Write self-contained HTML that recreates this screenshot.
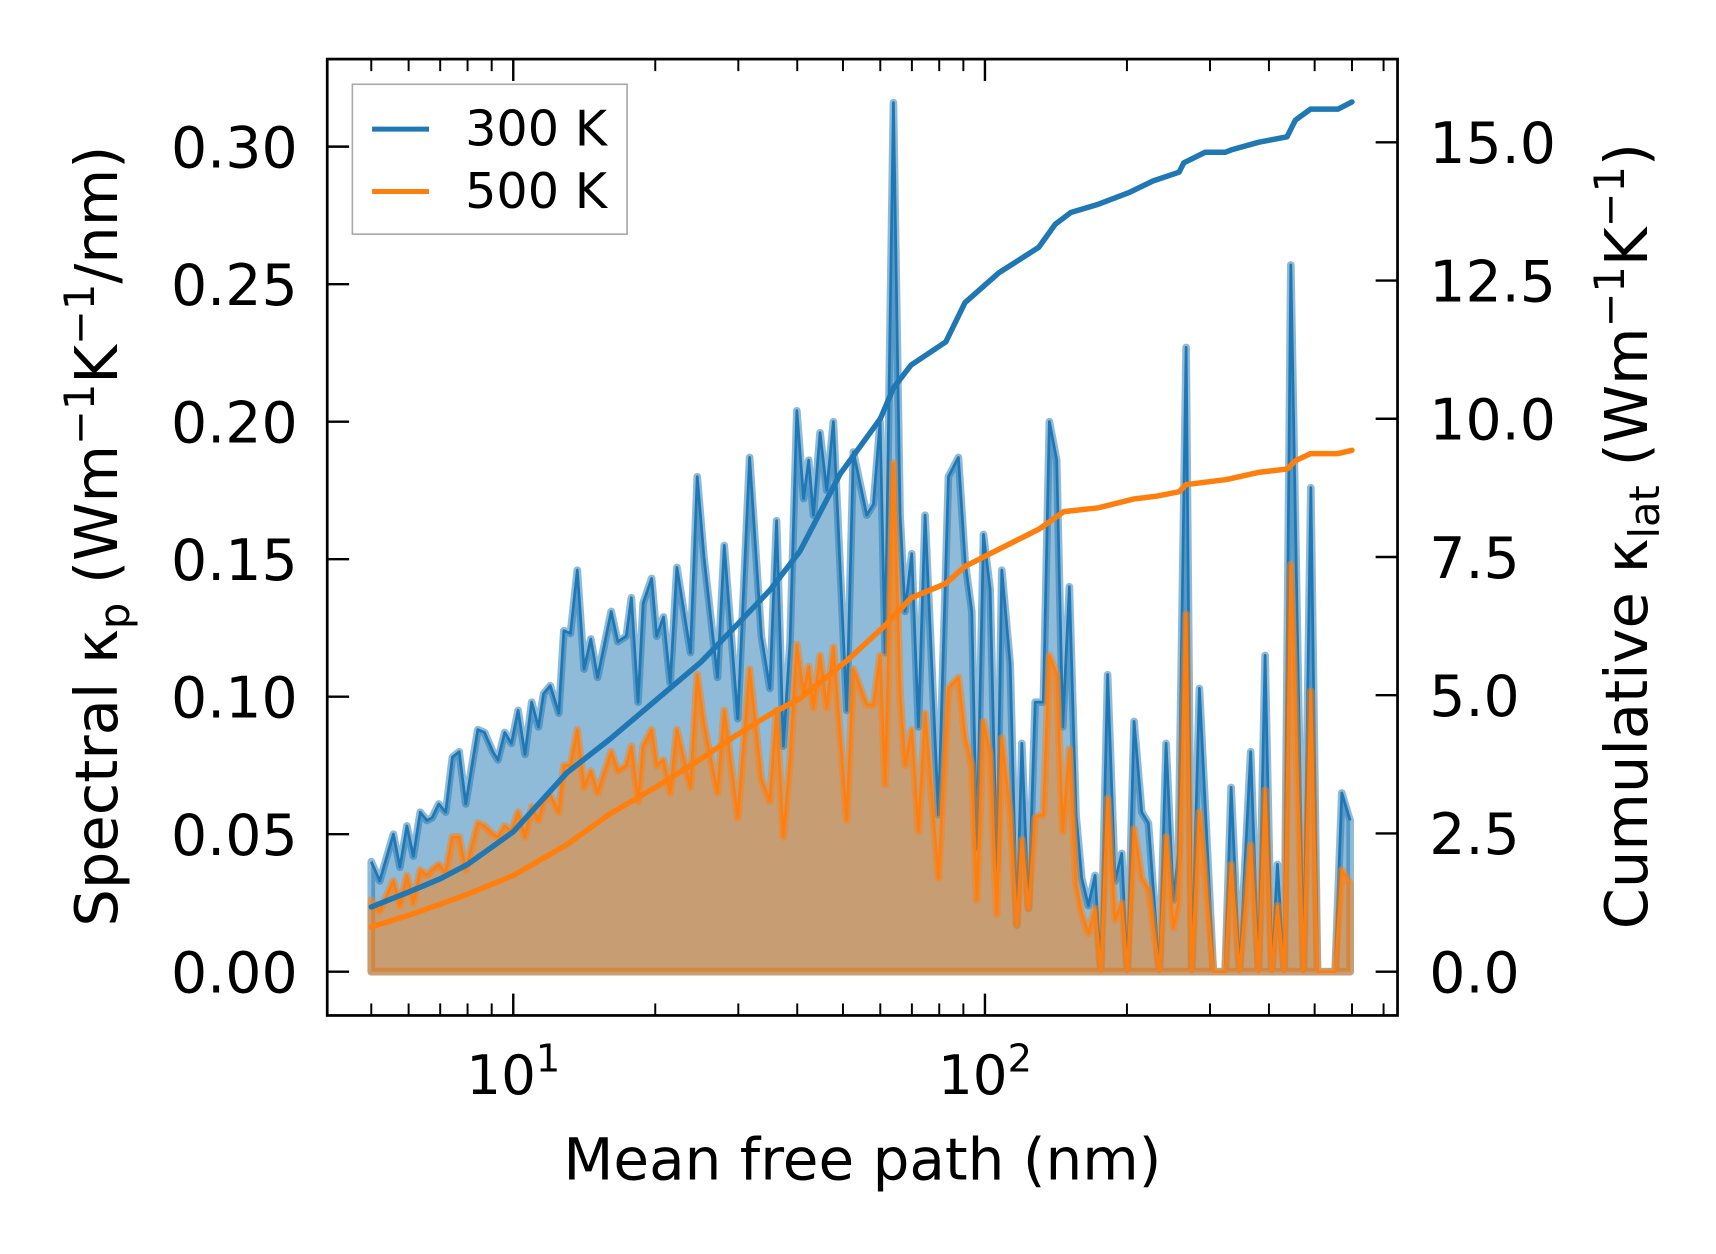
<!DOCTYPE html>
<html><head><meta charset="utf-8"><style>
html,body{margin:0;padding:0;background:#fff;}
svg{display:block;font-family:"DejaVu Sans","Liberation Sans",sans-serif;}
</style></head><body>
<svg id="chart" width="1716" height="1254" viewBox="0 0 1568 1146" preserveAspectRatio="none" xmlns="http://www.w3.org/2000/svg">
<rect x="0" y="0" width="1568" height="1146" fill="#fff"/>
<g id="plot"></g>
<rect x="299" y="54" width="978" height="874" fill="none" stroke="#000" stroke-width="2.5"/>
<g id="ticks"></g>
<g>
<rect x="322" y="77" width="251" height="137" fill="#fff" fill-opacity="0.8" stroke="#aaa" stroke-width="1.5"/>
<line x1="340" y1="118" x2="392" y2="118" stroke="#1f77b4" stroke-width="4.5"/>
<text x="425" y="133" font-size="45">300 K</text>
<line x1="340" y1="175" x2="392" y2="175" stroke="#ff7f0e" stroke-width="4.5"/>
<text x="425" y="190" font-size="45">500 K</text>
</g>
<text x="788" y="1078" font-size="53" text-anchor="middle">Mean free path (nm)</text>
<text transform="translate(107,490) rotate(-90)" font-size="54" text-anchor="middle">Spectral κ<tspan font-size="38" dy="11">p</tspan><tspan dy="-11"> (Wm</tspan><tspan font-size="38" dy="-21">−1</tspan><tspan dy="21">K</tspan><tspan font-size="38" dy="-21">−1</tspan><tspan dy="21">/nm)</tspan></text>
<text transform="translate(1505,490) rotate(-90)" font-size="54" text-anchor="middle">Cumulative κ<tspan font-size="38" dy="11">lat</tspan><tspan dy="-11"> (Wm</tspan><tspan font-size="38" dy="-21">−1</tspan><tspan dy="21">K</tspan><tspan font-size="38" dy="-21">−1</tspan><tspan dy="21">)</tspan></text>
</svg>
<script>
const mfp = [5.00,5.21,5.57,5.75,5.95,6.14,6.35,6.56,6.73,6.95,7.19,7.43,7.68,7.93,8.41,8.69,9.05,9.28,9.59,9.91,10.24,10.59,10.94,11.31,11.59,11.98,12.49,12.80,13.22,13.67,14.13,14.60,15.09,16.13,16.66,17.36,17.80,18.39,18.85,19.65,20.14,20.82,21.51,22.23,23.75,24.55,25.36,27.10,28.01,29.92,31.70,33.57,34.99,36.16,37.37,38.62,39.92,41.26,42.29,
43.28,44.71,46.19,47.72,50.93,52.61,56.16,58.02,59.94,61.42,63.97,66.08,67.71,69.95,72.27,74.66,79.69,83.68,87.86,90.78,93.78,96.10,99.29,102.57,105.96,108.58,113.10,116.85,119.74,123.70,127.78,
130.86,133.01,136.96,141.96,146.19,151.0,156.0,160.4,165.7,171.2,176.0,182.0,188.7,195.0,200.4,207.1,215.0,222.1,234.4,242.1,250.9,257.1,267.0,274.4,284.9,305.0,323.0,332.6,346.4,365.9,380.0,392.6,405.6,417.0,430.8,445.1,473.5,490.8,507.0,552.6,570.9,594.6];
const spec300 = [0.040,0.033,0.050,0.038,0.053,0.042,0.058,0.055,0.056,0.061,0.058,0.078,0.080,0.061,0.088,0.087,0.080,0.077,0.087,0.083,0.095,0.079,0.098,0.089,0.101,0.104,0.094,0.124,0.123,0.146,0.110,0.121,0.107,0.131,0.120,0.122,0.136,0.098,0.134,0.143,0.122,0.129,0.105,0.147,0.116,0.180,0.151,0.107,0.155,0.092,0.187,0.122,0.103,0.164,0.082,0.120,0.204,0.172,0.186,
0.166,0.196,0.175,0.200,0.095,0.189,0.166,0.170,0.200,0.116,0.316,0.166,0.131,0.152,0.089,0.166,0.057,0.180,0.187,0.149,0.131,0.045,0.159,0.139,0.037,0.146,0.112,0.017,0.083,0.023,0.098,
0.098,0.098,0.200,0.186,0.089,0.140,0.057,0.034,0.024,0.035,0.001,0.108,0.033,0.043,0.0,0.091,0.058,0.054,0.0,0.083,0.026,0.043,0.227,0.0,0.103,0.0,0.0,0.067,0.0,0.080,0.0,0.115,0.0,0.039,0.0,0.257,0.0,0.176,0.0,0.0,0.065,0.055];
const spec500 = [0.026,0.022,0.033,0.024,0.035,0.025,0.037,0.035,0.037,0.039,0.036,0.049,0.049,0.037,0.054,0.053,0.050,0.049,0.053,0.051,0.058,0.049,0.060,0.055,0.062,0.064,0.058,0.075,0.075,0.088,0.067,0.073,0.065,0.080,0.073,0.075,0.082,0.062,0.082,0.088,0.075,0.077,0.065,0.088,0.067,0.108,0.090,0.065,0.095,0.056,0.110,0.070,0.062,0.095,0.049,0.077,0.119,0.101,0.111,
0.096,0.115,0.096,0.118,0.055,0.110,0.097,0.097,0.115,0.068,0.185,0.101,0.075,0.088,0.051,0.094,0.034,0.103,0.107,0.085,0.075,0.026,0.091,0.079,0.021,0.085,0.057,0.017,0.048,0.023,0.056,
0.057,0.057,0.115,0.108,0.051,0.081,0.032,0.021,0.014,0.023,0,0.063,0.019,0.025,0,0.052,0.034,0.030,0,0.049,0.016,0.025,0.130,0,0.058,0,0,0.039,0,0.046,0,0.066,0,0.024,0,0.148,0,0.102,0,0,0.037,0.032];
const cumX300 = [5,6,7,8,10,13,16,20,25,30,35,40.5,49.3,60,64,69.7,82.6,90.7,107,130,141,152,174,202,227,258,264,293,323,335,380,437,455,490,560,600];
const cum300 = [1.17,1.44,1.68,1.94,2.53,3.6,4.2,4.9,5.6,6.3,6.9,7.6,9.0,10.0,10.56,10.97,11.39,12.1,12.64,13.1,13.52,13.73,13.88,14.09,14.3,14.46,14.63,14.82,14.82,14.87,15.0,15.1,15.4,15.6,15.6,15.73];
const cumX500 = [5,6,7,8,10,13,16,20,25,30,35,40.5,50.9,61.9,69.7,82.6,90.7,107,130,147,174,207,231,258,267,325,380,437,455,490,560,600];
const cum500 = [0.81,1.02,1.22,1.4,1.74,2.3,2.85,3.33,3.85,4.3,4.65,4.94,5.62,6.29,6.76,7.02,7.33,7.64,8.0,8.32,8.39,8.55,8.6,8.68,8.81,8.9,9.03,9.09,9.24,9.37,9.37,9.43];
const leftTicks = [0, 0.05, 0.10, 0.15, 0.20, 0.25, 0.30];
const leftTickLabels = ["0.00","0.05","0.10","0.15","0.20","0.25","0.30"];
const rightTicks = [0, 2.5, 5, 7.5, 10, 12.5, 15];
const rightTickLabels = ["0.0","2.5","5.0","7.5","10.0","12.5","15.0"];
const xMajor = [10, 100];
const xMajorExp = ["1","2"];
const xMinor = [5,6,7,8,9,20,30,40,50,60,70,80,90,200,300,400,500,600,700];

const NS = "http://www.w3.org/2000/svg";
function xs(m){ return 469 + 431*(Math.log10(m)-1); }
function yl(v){ return 888 - v*2513.3; }
function yr(c){ return 888 - c*50.53; }
function mk(tag, attrs, parent){
  const e = document.createElementNS(NS, tag);
  for (const k in attrs) e.setAttribute(k, attrs[k]);
  parent.appendChild(e);
  return e;
}
const plot = document.getElementById('plot');
const ticks = document.getElementById('ticks');

function spectral(vals, color, name){
  let d = 'M' + xs(mfp[0]) + ',' + yl(0);
  let l = '';
  for (let i = 0; i < mfp.length; i++){
    d += ' L' + xs(mfp[i]).toFixed(2) + ',' + yl(vals[i]).toFixed(2);
    l += (i ? ' L' : 'M') + xs(mfp[i]).toFixed(2) + ',' + yl(vals[i]).toFixed(2);
  }
  d += ' L' + xs(mfp[mfp.length-1]) + ',' + yl(0) + ' Z';
  const f = mk('path', {d: d, fill: color, 'fill-opacity': 0.5, stroke: color, 'stroke-opacity': 0.5, 'stroke-width': 7, 'stroke-linejoin': 'round'}, plot);
  
  
  const p = mk('path', {d: l, fill: 'none', stroke: color, 'stroke-width': 2.5, 'stroke-linejoin': 'round'}, plot);
  
  
}
spectral(spec300, '#1f77b4', 'spectral-300k');
spectral(spec500, '#ff7f0e', 'spectral-500k');

function cumulative(xv, yv, color, name){
  let d = '';
  for (let i = 0; i < xv.length; i++) d += (i ? ' L' : 'M') + xs(xv[i]).toFixed(2) + ',' + yr(yv[i]).toFixed(2);
  const p = mk('path', {d: d, fill: 'none', stroke: color, 'stroke-width': 5, 'stroke-linejoin': 'round', 'stroke-linecap': 'round'}, plot);
  
  
}
cumulative(cumX300, cum300, '#1f77b4', 'cumulative-300k-line');
cumulative(cumX500, cum500, '#ff7f0e', 'cumulative-500k-line');

leftTicks.forEach((v, i) => {
  const y = yl(v);
  mk('line', {x1: 299, y1: y, x2: 319, y2: y, stroke: '#000', 'stroke-width': 2.2}, ticks);
  const t = mk('text', {x: 272, y: y + 19, 'font-size': 52, 'text-anchor': 'end'}, ticks);
  t.textContent = leftTickLabels[i];
  
  
});
rightTicks.forEach((v, i) => {
  const y = yr(v);
  mk('line', {x1: 1257, y1: y, x2: 1277, y2: y, stroke: '#000', 'stroke-width': 2.2}, ticks);
  const t = mk('text', {x: 1306, y: y + 19, 'font-size': 52}, ticks);
  t.textContent = rightTickLabels[i];
  
  
});
xMajor.forEach((m, i) => {
  const x = xs(m);
  mk('line', {x1: x, y1: 928, x2: x, y2: 908, stroke: '#000', 'stroke-width': 2.2}, ticks);
  mk('line', {x1: x, y1: 54, x2: x, y2: 74, stroke: '#000', 'stroke-width': 2.2}, ticks);
  const t = mk('text', {x: x, y: 1000, 'font-size': 50, 'text-anchor': 'middle'}, ticks);
  
  
  const a = mk('tspan', {}, t); a.textContent = '10';
  const b = mk('tspan', {dy: -21, 'font-size': 35}, t); b.textContent = xMajorExp[i];
});
xMinor.forEach(m => {
  const x = xs(m);
  if (x < 299 || x > 1277) return;
  mk('line', {x1: x, y1: 928, x2: x, y2: 917, stroke: '#000', 'stroke-width': 1.8}, ticks);
  mk('line', {x1: x, y1: 54, x2: x, y2: 65, stroke: '#000', 'stroke-width': 1.8}, ticks);
});
</script>
</body></html>
